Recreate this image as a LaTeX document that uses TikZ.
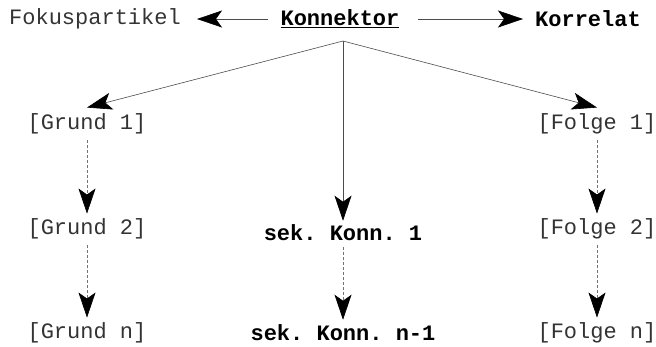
\documentclass[tikz,border=0pt]{standalone}
\usepackage{fontspec}
\setmonofont{Liberation Mono}
\usetikzlibrary{arrows.meta}

\tikzset{
    lbl/.style={font=\ttfamily\fontsize{22}{26}\selectfont, text=black!80, inner sep=2pt},
    boldlbl/.style={lbl, text=black, font=\ttfamily\bfseries\fontsize{22}{26}\selectfont},
    solidarrow/.style={draw=black!70, line width=0.6pt, -{Stealth[length=25pt,width=17pt,inset=6pt,black]}},
    dasharrow/.style={solidarrow, draw=black!55, dash pattern=on 3pt off 2pt}
}

\begin{document}
\begin{tikzpicture}[x=1pt,y=-1pt]
    \useasboundingbox (0,0) rectangle (656,346);
    % top row
    \node[boldlbl] (konn) at (340,19) {\underline{Konnektor}};
    \node[lbl] (fokus) at (95,19) {Fokuspartikel};
    \node[boldlbl] (korr) at (588,19) {Korrelat};
    \draw[solidarrow, shorten <=10pt, shorten >=14pt] (konn.west) -- (fokus.east);
    \draw[solidarrow, shorten <=16pt, shorten >=10pt] (konn.east) -- (korr.west);
    \coordinate (apex) at (343,41);
    % columns
    \node[lbl] (grund1) at (87,124) {[Grund 1]};
    \node[lbl] (grund2) at (87,229) {[Grund 2]};
    \node[lbl] (grundn) at (87,333) {[Grund n]};
    \node[boldlbl] (sek1) at (343,233) {sek. Konn. 1};
    \node[boldlbl] (sekn) at (343,333) {sek. Konn. n-1};
    \node[lbl] (folge1) at (597,124) {[Folge 1]};
    \node[lbl] (folge2) at (597,229) {[Folge 2]};
    \node[lbl] (folgen) at (597,333) {[Folge n]};
    % branches
    \draw[solidarrow] (apex) -- ([yshift=4pt]grund1.north);
    \draw[solidarrow] (apex) -- ([yshift=4pt]folge1.north);
    \draw[solidarrow] (apex) -- ([yshift=2pt]sek1.north);
    \draw[dasharrow, shorten <=4pt, shorten >=3pt] (grund1.south) -- (grund2.north);
    \draw[dasharrow, shorten <=4pt, shorten >=3pt] (grund2.south) -- (grundn.north);
    \draw[dasharrow, shorten <=4pt, shorten >=3pt] (folge1.south) -- (folge2.north);
    \draw[dasharrow, shorten <=4pt, shorten >=3pt] (folge2.south) -- (folgen.north);
    \draw[dasharrow, shorten <=4pt, shorten >=3pt] (sek1.south) -- (sekn.north);
\end{tikzpicture}
\end{document}
